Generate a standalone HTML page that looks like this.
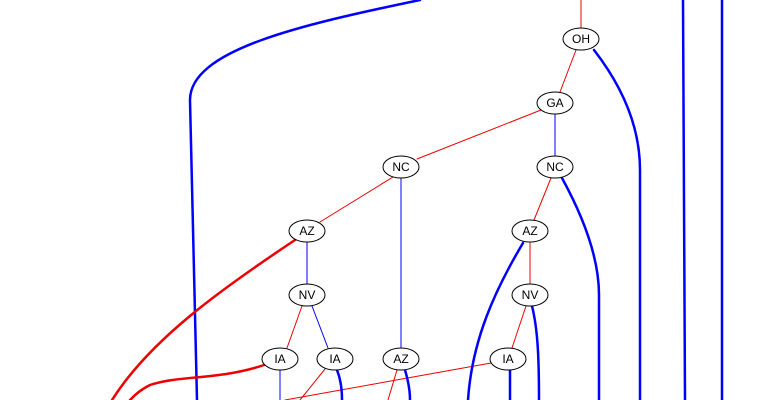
<!DOCTYPE html>
<html><head><meta charset="utf-8"><style>html,body{margin:0;padding:0;background:#fff}svg{display:block}</style></head>
<body>
<svg width="770" height="400" viewBox="0 0 770 400" xmlns="http://www.w3.org/2000/svg">
<g fill="none" stroke-linecap="round">
<!-- thin red -->
<g stroke="#e00" stroke-width="1">
<path d="M581,0 L581,28"/>
<path d="M576,50 L560,92"/>
<path d="M541,110 L417,159"/>
<path d="M393,177 L320,222"/>
<path d="M551,178 L534,220"/>
<path d="M530,242 L530,284"/>
<path d="M302,306 L287,348"/>
<path d="M526,306 L512,348"/>
<path d="M325,369 L300,400"/>
<path d="M397,370 L388,400"/>
<path d="M491,363 L285,400"/>
</g>
<!-- thin blue -->
<g stroke="#00f" stroke-width="1">
<path d="M555,114 L555,156"/>
<path d="M401,178 L401,348"/>
<path d="M307,242 L307,284"/>
<path d="M312,306 L328,348"/>
<path d="M280,370 L280,400"/>
</g>
<!-- thick blue -->
<g stroke="#00f" stroke-width="2.5">
<path d="M420,0 C300,25 190,50 190,100 L197,400"/>
<path d="M683,0 C683,150 685,300 685,400"/>
<path d="M722,0 L722,400"/>
<path d="M594,50 C625,90 640,130 640,170 L640,400"/>
<path d="M562,178 C585,220 599,260 599,295 L599,400"/>
<path d="M523,243 C495,290 472,340 468,400"/>
<path d="M532,306 C538,330 539,360 539,400"/>
<path d="M510,370 L510,400"/>
<path d="M337,370 C341,380 342,390 342,400"/>
<path d="M405,370 C408,380 410,390 410,400"/>
</g>
<!-- thick red -->
<g stroke="#e00" stroke-width="2.5">
<path d="M295,240 C220,290 150,340 112,400"/>
<path d="M264,365 C220,380 180,375 150,385 C140,390 135,395 130,400"/>
</g>
</g>
<g fill="#fff" stroke="#000" stroke-width="1">
<ellipse cx="581" cy="39" rx="18" ry="11"/>
<ellipse cx="555" cy="103" rx="18" ry="11"/>
<ellipse cx="401" cy="167" rx="18" ry="11"/>
<ellipse cx="555" cy="167" rx="18" ry="11"/>
<ellipse cx="307" cy="231" rx="18" ry="11"/>
<ellipse cx="530" cy="231" rx="18" ry="11"/>
<ellipse cx="307" cy="295" rx="18" ry="11"/>
<ellipse cx="530" cy="295" rx="18" ry="11"/>
<ellipse cx="280" cy="359" rx="18" ry="11"/>
<ellipse cx="335" cy="359" rx="18" ry="11"/>
<ellipse cx="401" cy="359" rx="18" ry="11"/>
<ellipse cx="508" cy="359" rx="18" ry="11"/>
</g>
<g font-family="Liberation Sans, sans-serif" font-size="12" text-anchor="middle" fill="#000">
<text x="581" y="43">OH</text>
<text x="555" y="107">GA</text>
<text x="401" y="171">NC</text>
<text x="555" y="171">NC</text>
<text x="307" y="235">AZ</text>
<text x="530" y="235">AZ</text>
<text x="307" y="299">NV</text>
<text x="530" y="299">NV</text>
<text x="280" y="363">IA</text>
<text x="335" y="363">IA</text>
<text x="401" y="363">AZ</text>
<text x="508" y="363">IA</text>
</g>
</svg>
</body></html>
